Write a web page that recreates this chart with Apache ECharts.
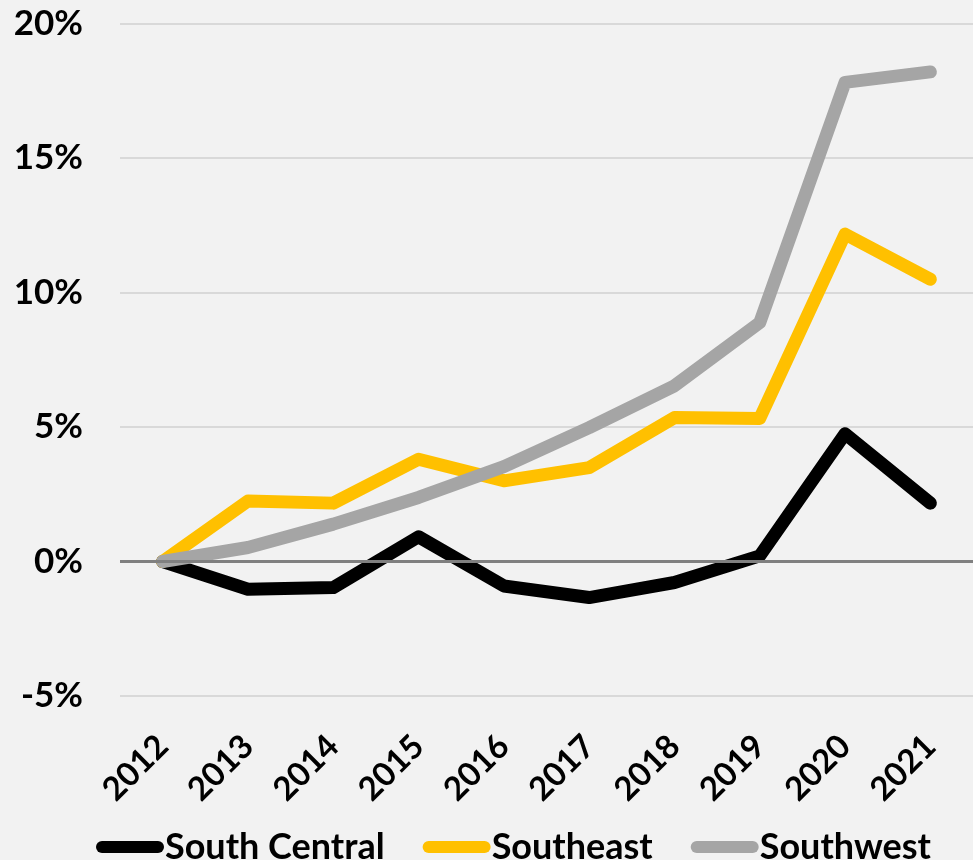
<!DOCTYPE html>
<html>
<head>
<meta charset="utf-8">
<script src="https://cdn.jsdelivr.net/npm/echarts@6/dist/echarts.min.js"></script>
<style>
  html, body { margin: 0; padding: 0; background: #F2F2F2; }
  #chart { width: 973px; height: 860px; }
</style>
</head>
<body>
<div id="chart"></div>
<script>
// Cumulative change since 2012, in percent
const years = ['2012', '2013', '2014', '2015', '2016', '2017', '2018', '2019', '2020', '2021'];
const southCentral = [0, -1.03, -0.97, 0.92, -0.91, -1.34, -0.78, 0.21, 4.75, 2.17];
const southeast    = [0, 2.25, 2.17, 3.80, 3.00, 3.49, 5.35, 5.32, 12.17, 10.49];
const southwest    = [0, 0.52, 1.39, 2.38, 3.53, 4.98, 6.53, 8.88, 17.81, 18.20];
const seriesNames  = ['South Central', 'Southeast', 'Southwest'];
const seriesColors = ['#000000', '#FFC000', '#A5A5A5'];

const FONT = 'Lato, "Open Sans", sans-serif';
const pill = 'path://M6,0 H62 A6,6 0 0 1 62,12 H6 A6,6 0 0 1 6,0 Z';

const chart = echarts.init(document.getElementById('chart'), null, { renderer: 'canvas' });

const lineSeries = [southCentral, southeast, southwest].map((data, i) => ({
  name: seriesNames[i],
  type: 'line',
  data: data,
  symbol: 'none',
  smooth: false,
  z: 3,
  lineStyle: { color: seriesColors[i], width: 13, cap: 'round', join: 'round' },
  itemStyle: { color: seriesColors[i] },
  emphasis: { disabled: true }
}));

// zero baseline, drawn beneath the data lines
const baseline = {
  type: 'line',
  data: [],
  z: 1,
  silent: true,
  markLine: {
    silent: true,
    symbol: 'none',
    label: { show: false },
    lineStyle: { color: '#808080', width: 3, type: 'solid' },
    data: [{ yAxis: 0 }]
  }
};

chart.setOption({
  backgroundColor: '#F2F2F2',
  animation: false,
  grid: { left: 120, right: -21, top: 23.5, bottom: 164 },
  legend: {
    data: seriesNames.map(n => ({ name: n, icon: pill })),
    left: 91,
    top: 824,
    itemWidth: 68,
    itemHeight: 13,
    itemGap: 38,
    textStyle: { fontFamily: FONT, fontWeight: 'bold', fontSize: 36, color: '#000', padding: [0, 0, 0, -4] }
  },
  xAxis: {
    type: 'category',
    data: years,
    boundaryGap: true,
    axisLine: { show: false },
    axisTick: { show: false },
    axisLabel: {
      rotate: 45,
      margin: 45,
      interval: 0,
      fontFamily: FONT,
      fontWeight: 'bold',
      fontSize: 33,
      color: '#000'
    }
  },
  yAxis: {
    type: 'value',
    min: -5,
    max: 20,
    interval: 5,
    axisLine: { show: false },
    axisTick: { show: false },
    splitLine: { lineStyle: { color: '#D9D9D9', width: 2 } },
    axisLabel: {
      margin: 37,
      formatter: '{value}%',
      fontFamily: FONT,
      fontWeight: 'bold',
      fontSize: 35,
      color: '#000'
    }
  },
  series: [baseline].concat(lineSeries)
});
</script>
</body>
</html>
